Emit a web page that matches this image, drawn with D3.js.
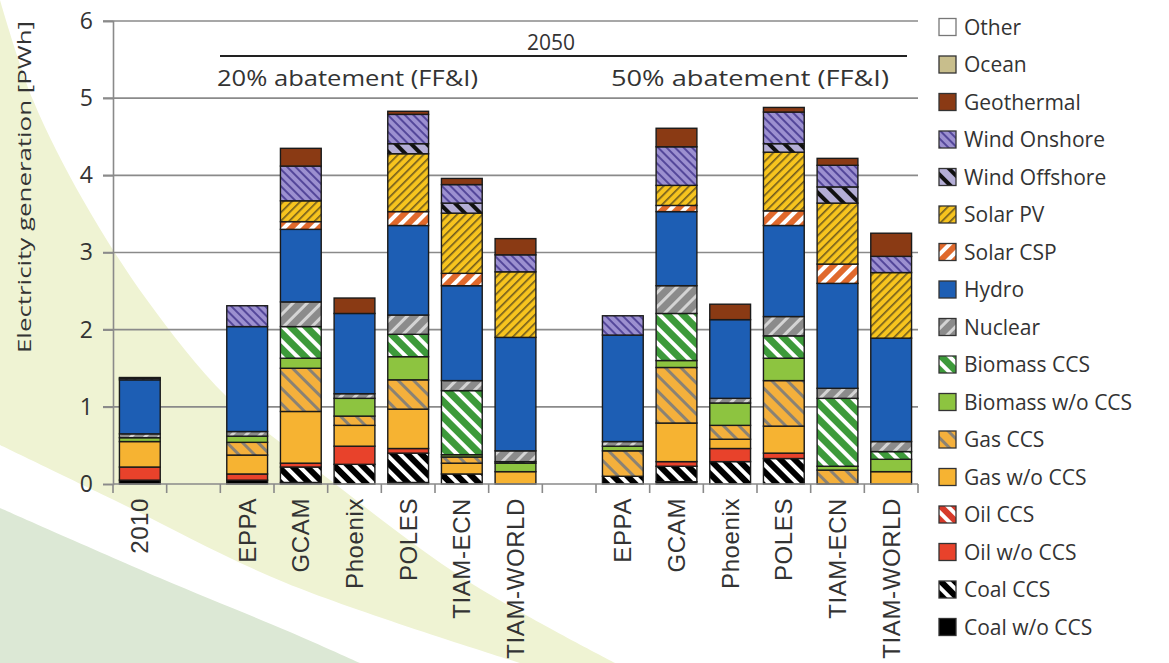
<!DOCTYPE html>
<html>
<head>
<meta charset="utf-8">
<script src="https://cdn.jsdelivr.net/npm/d3@7"></script>
<style>
  body { margin: 0; background: #fff; }
  svg { display: block; }
</style>
</head>
<body>
<svg id="chart" width="1169" height="663"></svg>
<script>
// bar slots (g1, g2 are the empty gaps between groups)
var SLOTS = ["2010", "g1", "EPPA", "GCAM", "Phoenix", "POLES", "TIAM-ECN", "TIAM-WORLD",
             "g2", "EPPA ", "GCAM ", "Phoenix ", "POLES ", "TIAM-ECN ", "TIAM-WORLD "];
var BARS = ["2010", "EPPA", "GCAM", "Phoenix", "POLES", "TIAM-ECN", "TIAM-WORLD",
            "EPPA ", "GCAM ", "Phoenix ", "POLES ", "TIAM-ECN ", "TIAM-WORLD "];
var Y_TICKS = [0, 1, 2, 3, 4, 5, 6];

// PWh per technology, same order as BARS
var coalWo   = [0.05, 0.05, 0.02, 0,     0.02, 0,    0,    0,    0.03, 0,    0,    0,    0];
var coalCcs  = [0,    0,    0.20, 0.255, 0.38, 0.13, 0,    0.10, 0.20, 0.29, 0.33, 0,    0];
var oilWo    = [0.17, 0.08, 0.05, 0.235, 0.06, 0,    0,    0,    0.06, 0.17, 0.07, 0,    0];
var oilCcs   = [0,    0,    0,    0,     0,    0,    0,    0,    0,    0,    0,    0,    0];
var gasWo    = [0.33, 0.245,0.67, 0.27,  0.51, 0.14, 0.16, 0,    0.50, 0.12, 0.35, 0,    0.16];
var gasCcs   = [0,    0.165,0.56, 0.12,  0.38, 0.08, 0,    0.33, 0.72, 0.18, 0.59, 0.18, 0];
var bioWo    = [0.05, 0.08, 0.13, 0.23,  0.30, 0.03, 0.11, 0.06, 0.09, 0.29, 0.29, 0.05, 0.16];
var bioCcs   = [0,    0,    0.41, 0,     0.29, 0.83, 0.02, 0,    0.61, 0,    0.29, 0.88, 0.10];
var nuclear  = [0.05, 0.06, 0.32, 0.06,  0.25, 0.13, 0.14, 0.06, 0.36, 0.06, 0.25, 0.13, 0.13];
var hydro    = [0.70, 1.36, 0.94, 1.04,  1.16, 1.23, 1.47, 1.38, 0.96, 1.02, 1.18, 1.36, 1.34];
var solarCsp = [0,    0,    0.10, 0,     0.18, 0.16, 0,    0,    0.08, 0,    0.19, 0.25, 0];
var solarPv  = [0,    0,    0.27, 0,     0.75, 0.78, 0.85, 0,    0.26, 0,    0.76, 0.79, 0.85];
var windOff  = [0,    0,    0,    0,     0.13, 0.13, 0,    0,    0,    0,    0.11, 0.21, 0];
var windOn   = [0.02, 0.27, 0.45, 0,     0.38, 0.24, 0.22, 0.25, 0.50, 0,    0.41, 0.28, 0.21];
var geo      = [0.01, 0,    0.23, 0.20,  0.04, 0.08, 0.21, 0,    0.24, 0.20, 0.06, 0.09, 0.30];
var ocean    = [0,    0,    0,    0,     0,    0,    0,    0,    0,    0,    0,    0,    0];
var other    = [0,    0,    0,    0,     0,    0,    0,    0,    0,    0,    0,    0,    0];

// stacking order bottom -> top
var SERIES = [
  {key: "Coal w/o CCS",     vals: coalWo},
  {key: "Coal CCS",         vals: coalCcs},
  {key: "Oil w/o CCS",      vals: oilWo},
  {key: "Oil CCS",          vals: oilCcs},
  {key: "Gas w/o CCS",      vals: gasWo},
  {key: "Gas CCS",          vals: gasCcs},
  {key: "Biomass w/o CCS",  vals: bioWo},
  {key: "Biomass CCS",      vals: bioCcs},
  {key: "Nuclear",          vals: nuclear},
  {key: "Hydro",            vals: hydro},
  {key: "Solar CSP",        vals: solarCsp},
  {key: "Solar PV",         vals: solarPv},
  {key: "Wind Offshore",    vals: windOff},
  {key: "Wind Onshore",     vals: windOn},
  {key: "Geothermal",       vals: geo},
  {key: "Ocean",            vals: ocean},
  {key: "Other",            vals: other}
];

// fill styles: solid colour or stripes (bg, stripe colour, angle, period, stripe width)
var STYLE = {
  "Coal w/o CCS":    {fill: "#000000"},
  "Coal CCS":        {bg: "#000000", fg: "#ffffff", ang: -45, p: 10, w: 4},
  "Oil w/o CCS":     {fill: "#e8422b"},
  "Oil CCS":         {bg: "#d63a2a", fg: "#ffffff", ang: -45, p: 10, w: 4},
  "Gas w/o CCS":     {fill: "#f6b332"},
  "Gas CCS":         {bg: "#f4b03c", fg: "#8a8274", ang: -45, p: 11, w: 3},
  "Biomass w/o CCS": {fill: "#8dc440"},
  "Biomass CCS":     {bg: "#3d9a3a", fg: "#ffffff", ang: -45, p: 11, w: 4},
  "Nuclear":         {bg: "#8b8b8b", fg: "#d4d4d4", ang: 45, p: 10, w: 3},
  "Hydro":           {fill: "#1d5eb4"},
  "Solar CSP":       {bg: "#e0692c", fg: "#ffffff", ang: 45, p: 10, w: 4},
  "Solar PV":        {bg: "#f7c41e", fg: "#6e5a1e", ang: 45, p: 6, w: 1.6},
  "Wind Offshore":   {bg: "#b4aed6", fg: "#111111", ang: -45, p: 11, w: 4},
  "Wind Onshore":    {bg: "#9c90d0", fg: "#54479a", ang: -45, p: 6, w: 2},
  "Geothermal":      {fill: "#8a3a14"},
  "Ocean":           {fill: "#c8be8c"},
  "Other":           {fill: "#ffffff"}
};

var svg = d3.select("#chart");

// decorative background swooshes
var bgLine = d3.line().curve(d3.curveCatmullRom);
var yellowTop = [[0, 0], [33, 100], [83, 200], [147, 300], [227, 397], [330, 480], [466, 580], [615, 663]];
var yellowBot = [[520, 663], [286, 583], [114, 500], [0, 445]];
var greenTop  = [[0, 508], [160, 578], [290, 632], [360, 663]];
svg.append("path")
  .attr("d", bgLine(yellowTop) + "L" + bgLine(yellowBot).slice(1) + "Z")
  .attr("fill", "#eff3d3");
svg.append("path")
  .attr("d", bgLine(greenTop) + "L0,663Z")
  .attr("fill", "#dce8d5");

// patterns
var defs = svg.append("defs");
var pid = {};
SERIES.forEach(function(s, i) {
  var st = STYLE[s.key];
  if (st.fill) { pid[s.key] = st.fill; return; }
  var id = "pat" + i;
  var pat = defs.append("pattern")
    .attr("id", id)
    .attr("patternUnits", "userSpaceOnUse")
    .attr("width", st.p).attr("height", st.p)
    .attr("patternTransform", "rotate(" + st.ang + ")");
  pat.append("rect").attr("width", st.p).attr("height", st.p).attr("fill", st.bg);
  pat.append("rect").attr("x", 0).attr("width", st.w).attr("height", st.p).attr("fill", st.fg);
  pid[s.key] = "url(#" + id + ")";
});

// scales
var x = d3.scaleBand().domain(SLOTS).range([113, 918]).paddingInner(0).paddingOuter(0);
var y = d3.scaleLinear().domain([0, 6]).range([484, 21]);
var barW = x.bandwidth() * 0.76;

// gridlines
svg.append("g")
  .selectAll("line")
  .data(Y_TICKS.slice(1))
  .enter()
  .append("line")
  .attr("x1", 103).attr("x2", 918)
  .attr("y1", function(d) { return y(d); })
  .attr("y2", function(d) { return y(d); })
  .attr("stroke", "#8a8a8a")
  .attr("stroke-width", 1.6);

// y axis
var yAxis = svg.append("g")
  .attr("transform", "translate(113,0)")
  .call(d3.axisLeft(y).tickValues(Y_TICKS).tickFormat(d3.format("d")).tickSize(10).tickPadding(10));
yAxis.select(".domain").attr("stroke", "#8a8a8a").attr("stroke-width", 1.6);
yAxis.selectAll(".tick line").attr("stroke", "#8a8a8a").attr("stroke-width", 1.6);
yAxis.selectAll("text")
  .attr("font-family", "Open Sans")
  .attr("font-size", 23)
  .attr("fill", "#333");

svg.append("text")
  .attr("transform", "translate(31,187) rotate(-90)")
  .attr("text-anchor", "middle")
  .attr("font-family", "Open Sans")
  .attr("font-size", 19)
  .attr("fill", "#333")
  .attr("textLength", 332)
  .attr("lengthAdjust", "spacingAndGlyphs")
  .text("Electricity generation [PWh]");

// stacked bars
var rows = BARS.map(function(b, j) {
  var r = {bar: b};
  SERIES.forEach(function(s) { r[s.key] = s.vals[j]; });
  return r;
});
var stack = d3.stack().keys(SERIES.map(function(s) { return s.key; }));
var layers = stack(rows);

svg.append("g")
  .selectAll("g")
  .data(layers)
  .enter()
  .append("g")
  .attr("fill", function(d) { return pid[d.key]; })
  .selectAll("rect")
  .data(function(d) { return d.filter(function(p) { return p[1] - p[0] > 0; }); })
  .enter()
  .append("rect")
  .attr("x", function(d) { return x(d.data.bar) + (x.bandwidth() - barW) / 2; })
  .attr("width", barW)
  .attr("y", function(d) { return y(d[1]); })
  .attr("height", function(d) { return y(d[0]) - y(d[1]); })
  .attr("stroke", "#1a1a1a")
  .attr("stroke-width", 1.4);

// x axis: ticks on slot boundaries, labels at slot centres
var bounds = SLOTS.map(function(s) { return x(s); }).concat([918]);
var xg = svg.append("g");
xg.append("line")
  .attr("x1", 113).attr("x2", 918)
  .attr("y1", 484).attr("y2", 484)
  .attr("stroke", "#8a8a8a").attr("stroke-width", 1.6);
xg.selectAll("line.tk")
  .data(bounds)
  .enter()
  .append("line")
  .attr("class", "tk")
  .attr("x1", function(d) { return d; })
  .attr("x2", function(d) { return d; })
  .attr("y1", 484).attr("y2", 493)
  .attr("stroke", "#8a8a8a").attr("stroke-width", 1.6);
xg.selectAll("text")
  .data(BARS)
  .enter()
  .append("text")
  .attr("transform", function(d) {
    return "translate(" + (x(d) + x.bandwidth() / 2) + ",498) rotate(-90)";
  })
  .attr("text-anchor", "end")
  .attr("dy", "0.36em")
  .attr("font-family", "Liberation Sans")
  .attr("font-size", 24)
  .attr("letter-spacing", 0.6)
  .attr("fill", "#333")
  .text(function(d) { return d.trim(); });

// group headers
svg.append("line")
  .attr("x1", 220).attr("x2", 907)
  .attr("y1", 56).attr("y2", 56)
  .attr("stroke", "#222").attr("stroke-width", 1.8);
svg.append("text")
  .attr("x", 551).attr("y", 50)
  .attr("text-anchor", "middle")
  .attr("font-family", "Open Sans")
  .attr("font-size", 21)
  .attr("fill", "#333")
  .text("2050");
var heads = [
  {t: "20% abatement (FF&I)", x0: 217, len: 261},
  {t: "50% abatement (FF&I)", x0: 611, len: 278}
];
svg.selectAll("text.head")
  .data(heads)
  .enter()
  .append("text")
  .attr("class", "head")
  .attr("x", function(d) { return d.x0; })
  .attr("y", 86)
  .attr("font-family", "Open Sans")
  .attr("font-size", 21)
  .attr("fill", "#333")
  .attr("textLength", function(d) { return d.len; })
  .attr("lengthAdjust", "spacingAndGlyphs")
  .text(function(d) { return d.t; });

// legend (top -> bottom is reverse of stacking)
var legendKeys = SERIES.map(function(s) { return s.key; }).reverse();
var lg = svg.append("g")
  .selectAll("g")
  .data(legendKeys)
  .enter()
  .append("g")
  .attr("transform", function(d, i) { return "translate(939," + (27 + i * 37.5) + ")"; });
lg.append("rect")
  .attr("x", 0).attr("y", -8.5)
  .attr("width", 17).attr("height", 17)
  .attr("fill", function(d) { return pid[d]; })
  .attr("stroke", function(d) { return d === "Other" ? "#777" : "#333"; })
  .attr("stroke-width", 1.3);
lg.append("text")
  .attr("x", 25)
  .attr("dy", "0.36em")
  .attr("font-family", "Open Sans")
  .attr("font-size", 21)
  .attr("fill", "#333")
  .text(function(d) { return d; });
</script>
</body>
</html>
